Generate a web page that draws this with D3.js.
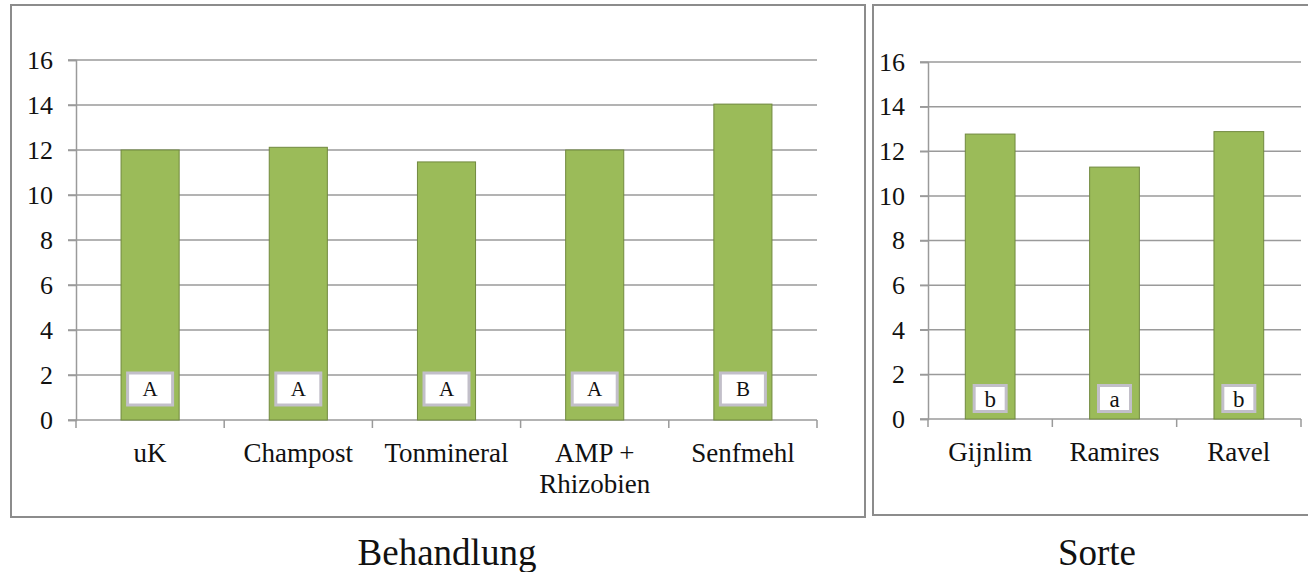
<!DOCTYPE html>
<html><head><meta charset="utf-8">
<script src="https://cdn.jsdelivr.net/npm/d3@7"></script>
<style>
html,body{margin:0;padding:0;background:#fff;}
svg{display:block;}
text{font-family:"Liberation Serif","Times New Roman",serif;fill:#111;}
</style></head>
<body>
<svg id="chart" width="1308" height="572"></svg>
<script>
// ---- data ----
const categoriesBehandlung = ["uK", "Champost", "Tonmineral", "AMP + |Rhizobien", "Senfmehl"];
const valuesBehandlung = [12.0, 12.12, 11.47, 12.0, 14.04];
const lettersBehandlung = ["A", "A", "A", "A", "B"];
const categoriesSorte = ["Gijnlim", "Ramires", "Ravel"];
const valuesSorte = [12.77, 11.29, 12.88];
const lettersSorte = ["b", "a", "b"];
const yTickValues = [0, 2, 4, 6, 8, 10, 12, 14, 16];
const titles = ["Behandlung", "Sorte"];

const svg = d3.select("#chart");

function panel(cfg) {
  const g = svg.append("g");
  // border
  g.append("rect").attr("x", cfg.box[0]).attr("y", cfg.box[1])
    .attr("width", cfg.box[2]).attr("height", cfg.box[3])
    .attr("fill", "#fff").attr("stroke", "#8c8c8c").attr("stroke-width", 2);

  const x = d3.scaleBand().domain(cfg.cats).range([cfg.x0, cfg.x1]).paddingInner(0).paddingOuter(0);
  const y = d3.scaleLinear().domain([0, 16]).range([cfg.y0, cfg.yTop]);

  // gridlines
  g.append("g").selectAll("line").data(yTickValues).join("line")
    .attr("x1", cfg.x0 - 8).attr("x2", cfg.x1)
    .attr("y1", d => y(d)).attr("y2", d => y(d))
    .attr("stroke", "#9a9a9a").attr("stroke-width", 1.5);

  // y axis
  const yAxis = d3.axisLeft(y).tickValues(yTickValues).tickSize(8).tickPadding(15).tickFormat(d3.format("d"));
  const ya = g.append("g").attr("transform", `translate(${cfg.x0},0)`).call(yAxis);
  ya.select(".domain").attr("stroke", "#9a9a9a").attr("stroke-width", 1.5);
  ya.selectAll(".tick line").attr("stroke", "#9a9a9a").attr("stroke-width", 1.5);
  ya.selectAll(".tick text").attr("font-size", 26).attr("font-family", "Liberation Serif, serif").attr("fill", "#111");

  // x axis ticks at category boundaries
  const bounds = cfg.cats.map(c => x(c)).concat([cfg.x1]);
  g.append("g").selectAll("line").data(bounds).join("line")
    .attr("x1", d => d).attr("x2", d => d)
    .attr("y1", cfg.y0).attr("y2", cfg.y0 + 8)
    .attr("stroke", "#9a9a9a").attr("stroke-width", 1.5);

  // bars
  const bw = x.bandwidth() * cfg.barRatio;
  g.append("g").selectAll("rect").data(cfg.vals).join("rect")
    .attr("x", (d, i) => x(cfg.cats[i]) + (x.bandwidth() - bw) / 2)
    .attr("y", d => y(d))
    .attr("width", bw)
    .attr("height", d => y(0) - y(d))
    .attr("fill", "#9bbb59").attr("stroke", "#71893f").attr("stroke-width", 1);

  // letter boxes
  const lb = g.append("g").selectAll("g").data(cfg.letters).join("g")
    .attr("transform", (d, i) => `translate(${x(cfg.cats[i]) + x.bandwidth() / 2},${cfg.y0 - cfg.lbOff})`);
  lb.append("rect").attr("x", -cfg.lbW / 2).attr("y", -cfg.lbH / 2)
    .attr("width", cfg.lbW).attr("height", cfg.lbH)
    .attr("fill", "#fff").attr("stroke", "#c2bfc9").attr("stroke-width", 3);
  lb.append("text").attr("text-anchor", "middle").attr("dy", "0.35em")
    .attr("font-size", cfg.lbFont).text(d => d);

  // category labels
  const cl = g.append("g").selectAll("text").data(cfg.cats).join("text")
    .attr("text-anchor", "middle").attr("font-size", 27)
    .attr("x", c => x(c) + x.bandwidth() / 2).attr("y", cfg.y0 + 42);
  cl.each(function(c) {
    const parts = c.split("|");
    const t = d3.select(this);
    parts.forEach((p, k) => {
      t.append("tspan").attr("x", t.attr("x")).attr("dy", k === 0 ? 0 : 31).text(p.trim());
    });
  });

  // title
  g.append("text").attr("text-anchor", "middle").attr("font-size", 37)
    .attr("x", cfg.titleX).attr("y", 565).text(cfg.title);
}

panel({
  box: [11, 5, 854, 512],
  cats: categoriesBehandlung, vals: valuesBehandlung, letters: lettersBehandlung,
  x0: 76, x1: 817, y0: 420, yTop: 60, barRatio: 0.392,
  lbW: 45, lbH: 32, lbOff: 31, lbFont: 21,
  titleX: 447, title: titles[0]
});
panel({
  box: [873, 5, 445, 510],
  cats: categoriesSorte, vals: valuesSorte, letters: lettersSorte,
  x0: 928, x1: 1301, y0: 419, yTop: 62, barRatio: 0.40,
  lbW: 32, lbH: 26, lbOff: 20.5, lbFont: 23,
  titleX: 1097, title: titles[1]
});
</script>
</body></html>
